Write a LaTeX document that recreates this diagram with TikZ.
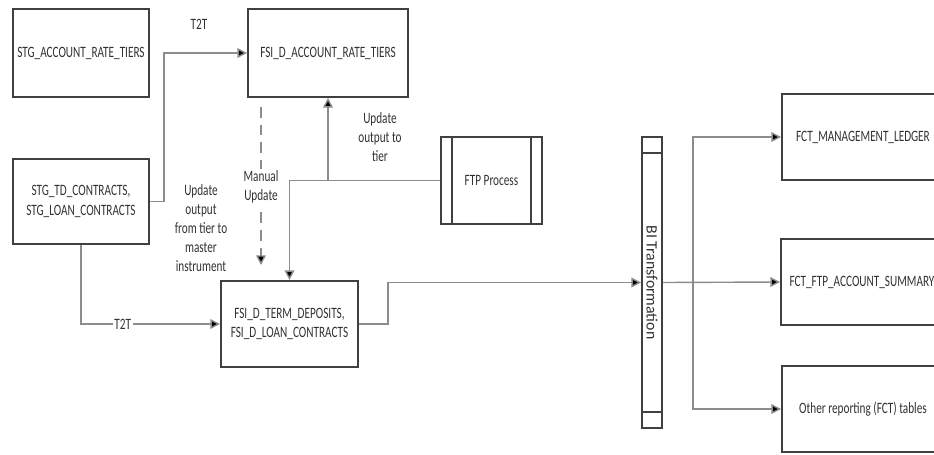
\documentclass[tikz,border=0pt]{standalone}
\usepackage{fontspec}
\setmainfont{Carlito}[FakeStretch=0.71]
\newfontfamily\bifont{Carlito}
\usepackage{tikz}
\usetikzlibrary{arrows.meta,positioning,calc}
\definecolor{boxline}{RGB}{64,64,64}
\definecolor{conline}{RGB}{140,140,140}
\definecolor{txtgray}{RGB}{50,50,50}
\tikzset{
  tbl/.style={draw=boxline, line width=1.1pt, inner sep=0pt, align=center,
      text=txtgray, font=\fontsize{9}{11}\selectfont},
  lbl/.style={align=center, text=txtgray, font=\fontsize{9}{10.8}\selectfont, inner sep=1pt},
  flow/.style={conline, line width=0.8pt, -{Triangle[length=5.5pt,width=5.5pt,fill=black]}},
  manual/.style={conline, line width=0.8pt, dash pattern=on 6pt off 4pt,
      -{Triangle[length=5.5pt,width=5.5pt,fill=black]}},
}

\begin{document}
\begin{tikzpicture}[x=0.02cm, y=-0.02cm]
  \useasboundingbox (0,0) rectangle (934,454);
  \clip (0,0) rectangle (934,454);
  % source tables
  \node[tbl, minimum width=2.72cm, minimum height=1.76cm] (stgrate) at (81,53) {STG\_ACCOUNT\_RATE\_TIERS};
  \node[tbl, minimum width=2.72cm, minimum height=1.70cm] (stgtd) at (81,201.5) {STG\_TD\_CONTRACTS,\\STG\_LOAN\_CONTRACTS};
  % FSI tables
  \node[tbl, minimum width=3.2cm, minimum height=1.76cm] (fsirate) at (328,53) {FSI\_D\_ACCOUNT\_RATE\_TIERS};
  \node[tbl, minimum width=2.74cm, minimum height=1.72cm] (fsiterm) at (289.5,324) {FSI\_D\_TERM\_DEPOSITS,\\FSI\_D\_LOAN\_CONTRACTS};
  % processes
  \node[tbl, minimum width=2.02cm, minimum height=1.74cm] (ftp) at (491.5,180.5) {FTP Process};
  \draw[boxline, line width=1.1pt] ([xshift=0.24cm]ftp.north west) -- ([xshift=0.24cm]ftp.south west);
  \draw[boxline, line width=1.1pt] ([xshift=-0.24cm]ftp.north east) -- ([xshift=-0.24cm]ftp.south east);
  \node[tbl, minimum width=0.4cm, minimum height=5.82cm] (bi) at (652,282.5) {};
  \node[lbl, rotate=-90, font=\bifont\fontsize{9}{11}\selectfont] (bitext) at (bi.center) {BI Transformation};
  \draw[boxline, line width=1.1pt] ([yshift=-0.34cm]bi.north west) -- ([yshift=-0.34cm]bi.north east);
  \draw[boxline, line width=1.1pt] ([yshift=0.34cm]bi.south west) -- ([yshift=0.34cm]bi.south east);
  % reporting tables
  \node[tbl, minimum width=3.24cm, minimum height=1.72cm] (fctml) at (863,137) {FCT\_MANAGEMENT\_LEDGER};
  \node[tbl, minimum width=3.24cm, minimum height=1.72cm] (fctftp) at (862,282) {FCT\_FTP\_ACCOUNT\_SUMMARY};
  \node[tbl, minimum width=3.24cm, minimum height=1.72cm] (fctother) at (863,409) {Other reporting (FCT) tables};
  % labels
  \node[lbl] (t2ta) at (199,24) {T2T};
  \node[lbl] (upd1) at (201,228) {Update\\output\\from tier to\\master\\instrument};
  \node[lbl] (upd2) at (380,137) {Update\\output to\\tier};
  % connectors
  \draw[flow] (stgtd.east) -- ++(14,0) |- (fsirate.west);
  \draw[flow] (stgtd.south) |- (fsiterm.west) node[pos=0.65, lbl, fill=white] (t2tb) {T2T};
  \coordinate (mutop) at (261,107);
  \coordinate (mubot) at (261,265);
  \draw[manual] (mutop) -- (mubot) node[midway, lbl, fill=white, yshift=-0.02cm] (manlbl) {Manual\\Update};
  \draw[flow] (ftp.west) -| (fsiterm.north);
  \draw[flow] (fsirate.south |- ftp.west) -- (fsirate.south);
  \draw[flow] (fsiterm.east) -- ++(29,0) |- (bi.west);
  \draw[flow] (bi.east) -- (fctftp.west);
  \coordinate (split) at ($(bi.east)+(30,0)$);
  \draw[flow] (split) |- (fctml.west);
  \draw[flow] (split) |- (fctother.west);
\end{tikzpicture}
\end{document}
